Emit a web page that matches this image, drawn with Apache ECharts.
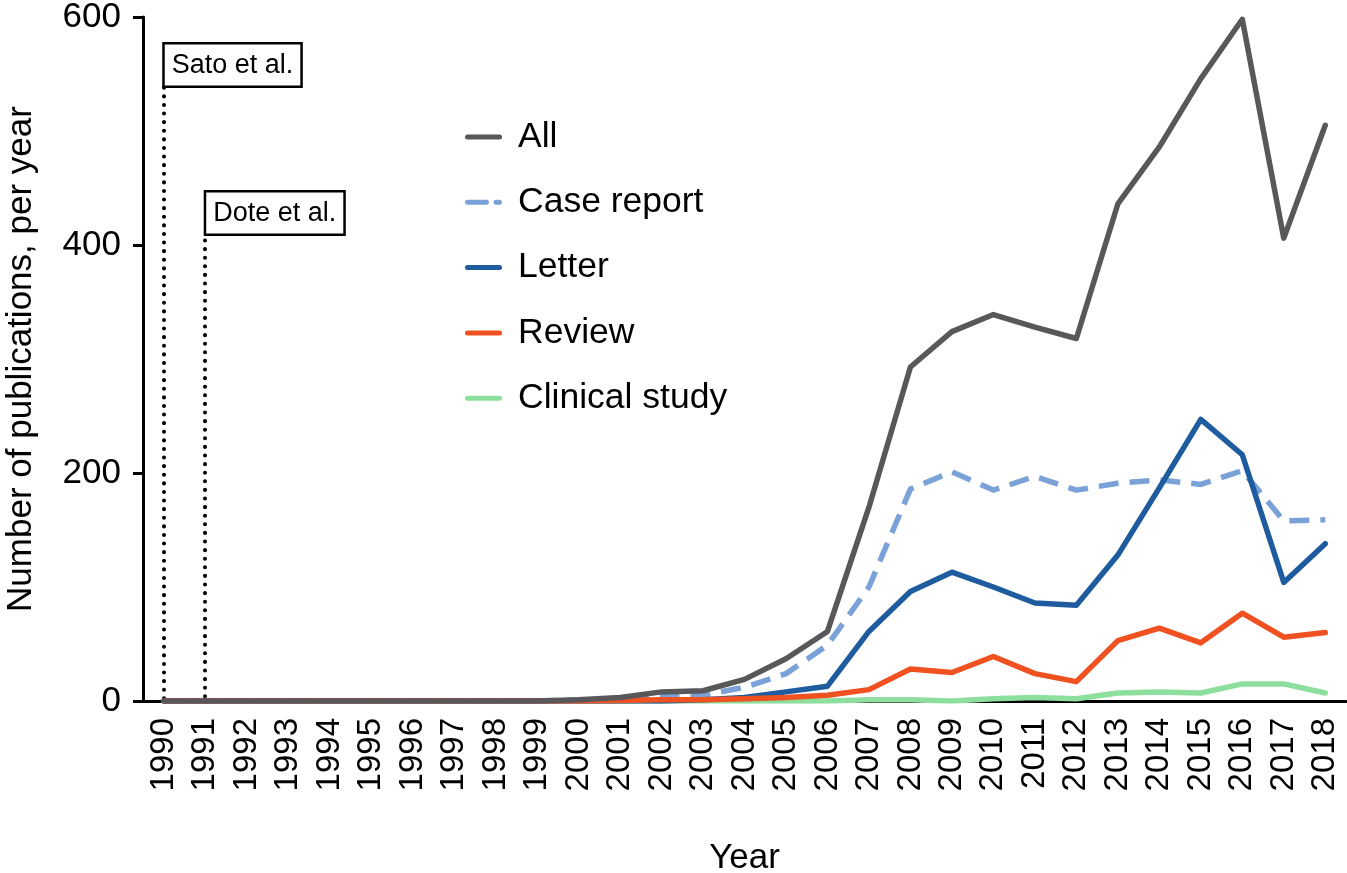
<!DOCTYPE html>
<html>
<head>
<meta charset="utf-8">
<script src="https://cdn.jsdelivr.net/npm/echarts@6/dist/echarts.min.js"></script>
<style>html,body{margin:0;padding:0;background:#fff;}#c{width:1347px;height:873px;}</style>
</head>
<body>
<div id="c"></div>
<script>
const years = ['1990','1991','1992','1993','1994','1995','1996','1997','1998','1999','2000','2001','2002','2003','2004','2005','2006','2007','2008','2009','2010','2011','2012','2013','2014','2015','2016','2017','2018'];
//                1990 .............................1999  2000 2001 2002 2003 2004 2005 2006 2007 2008 2009 2010 2011 2012 2013 2014 2015 2016 2017 2018
const allPubs    = [0,0,0,0,0,0,0,0,0,0,               1,   3,   8,   9,   19,  37,  61,  170, 293, 324, 339, 328, 318, 436, 486, 546, 598, 406, 505];
const caseReport = [0,0,0,0,0,0,0,0,0,0,               1,   2,   6,   5,   12,  24,  49,  100, 186, 201, 185, 197, 185, 191, 194, 190, 202, 158, 159];
const letter     = [0,0,0,0,0,0,0,0,0,0,               0,   0,   0,   1,   3,   8,   13,  61,  96,  113, 100, 86,  84,  128, 187, 247, 216, 104, 138];
const review     = [0,0,0,0,0,0,0,0,0,0,               0,   0.5, 1,   1,   2,   3,   5,   10,  28,  25,  39,  24,  17,  53,  64,  51,  77,  56,  60];
const clinical   = [0,0,0,0,0,0,0,0,0,0,               0,   0,   0,   0,   0,   0,   0,   1,   1,   0,   2,   3,   2,   7,   8,   7,   15,  15,  7];
const yTicks = [0, 200, 400, 600];
const annotations = [
  { label: 'Sato et al.', year: '1990', lineTop: 538, boxBottom: 540 },
  { label: 'Dote et al.', year: '1991', lineTop: 404, boxBottom: 410 }
];
const legendOrder = ['All', 'Case report', 'Letter', 'Review', 'Clinical study'];

const FONT = 'Liberation Sans, Arial, Helvetica, sans-serif';
const chart = echarts.init(document.getElementById('c'));

const SOLID_ICON = 'path://M2.5,0h32a2.5,2.5 0 0 1 0,5h-32a2.5,2.5 0 0 1 0,-5z';
const DASH_ICON = 'path://M2.5,0h19a2.5,2.5 0 0 1 0,5h-19a2.5,2.5 0 0 1 0,-5z M31,0h3.5a2.5,2.5 0 0 1 0,5h-3.5a2.5,2.5 0 0 1 0,-5z';

function lineSeries(name, data, color, extra) {
  return Object.assign({
    name: name, type: 'line', data: data, symbol: 'none', smooth: false,
    lineStyle: { color: color, width: 5.5, cap: 'round', join: 'round' },
    itemStyle: { color: color },
    animation: false
  }, extra || {});
}

const option = {
  backgroundColor: '#ffffff',
  animation: false,
  grid: { left: 143, right: 1, top: 17, bottom: 172, containLabel: false, outerBoundsMode: 'none' },
  legend: {
    data: legendOrder.map(n => ({ name: n, icon: n === 'Case report' ? DASH_ICON : SOLID_ICON })),
    orient: 'vertical',
    left: 460, top: 114,
    itemWidth: 37, itemHeight: 5,
    itemGap: 29.3,
    textStyle: { fontFamily: FONT, fontSize: 35.5, color: '#000', lineHeight: 34, padding: [0, 0, 0, 11] }
  },
  xAxis: {
    type: 'category',
    data: years,
    boundaryGap: true,
    name: 'Year', nameLocation: 'middle', nameGap: 140,
    nameTextStyle: { fontFamily: FONT, fontSize: 35, color: '#000' },
    axisLine: { lineStyle: { color: '#000', width: 3 } },
    axisTick: { alignWithLabel: true, length: 12, lineStyle: { color: '#000', width: 4 } },
    axisLabel: { rotate: 90, fontFamily: FONT, fontSize: 33, color: '#000', margin: 17, interval: 0 },
    splitLine: { show: false }
  },
  yAxis: {
    type: 'value', min: 0, max: 600, interval: 200,
    name: 'Number of publications, per year', nameLocation: 'middle', nameGap: 104,
    nameTextStyle: { fontFamily: FONT, fontSize: 35, color: '#000' },
    axisLine: { show: true, lineStyle: { color: '#000', width: 3 } },
    axisTick: { show: true, length: 10, lineStyle: { color: '#000', width: 3 } },
    axisLabel: { fontFamily: FONT, fontSize: 35, color: '#000', margin: 22,
      formatter: v => yTicks.indexOf(v) >= 0 ? String(v) : '' },
    splitLine: { show: false }
  },
  series: [
    lineSeries('Clinical study', clinical, '#8ddf9e', { z: 2 }),
    lineSeries('Case report', caseReport, '#7aa2d8', { z: 3,
      lineStyle: { color: '#7aa2d8', width: 5.5, type: [20, 11], cap: 'butt', join: 'round' } }),
    lineSeries('Letter', letter, '#1f5c9f', { z: 4 }),
    lineSeries('Review', review, '#ef5121', { z: 5 }),
    lineSeries('All', allPubs, '#58575a', { z: 6,
      markLine: {
        silent: true, symbol: ['none', 'none'], animation: false,
        label: { show: false },
        lineStyle: { color: '#000', width: 4, type: [0.1, 8.5], cap: 'round' },
        data: annotations.map(a => [{ coord: [a.year, a.lineTop] }, { coord: [a.year, 0] }])
      },
      markPoint: {
        silent: true, symbol: 'rect', symbolSize: 0, animation: false,
        label: {
          show: true, position: [1, 0], align: 'left', verticalAlign: 'bottom',
          fontFamily: FONT, fontSize: 27, color: '#000', lineHeight: 28,
          backgroundColor: '#fff', borderColor: '#000', borderWidth: 2.5,
          padding: [7, 7, 6, 7],
          formatter: p => p.name
        },
        data: annotations.map(a => ({ name: a.label, coord: [a.year, a.boxBottom] }))
      }
    })
  ]
};
chart.setOption(option);
</script>
</body>
</html>
